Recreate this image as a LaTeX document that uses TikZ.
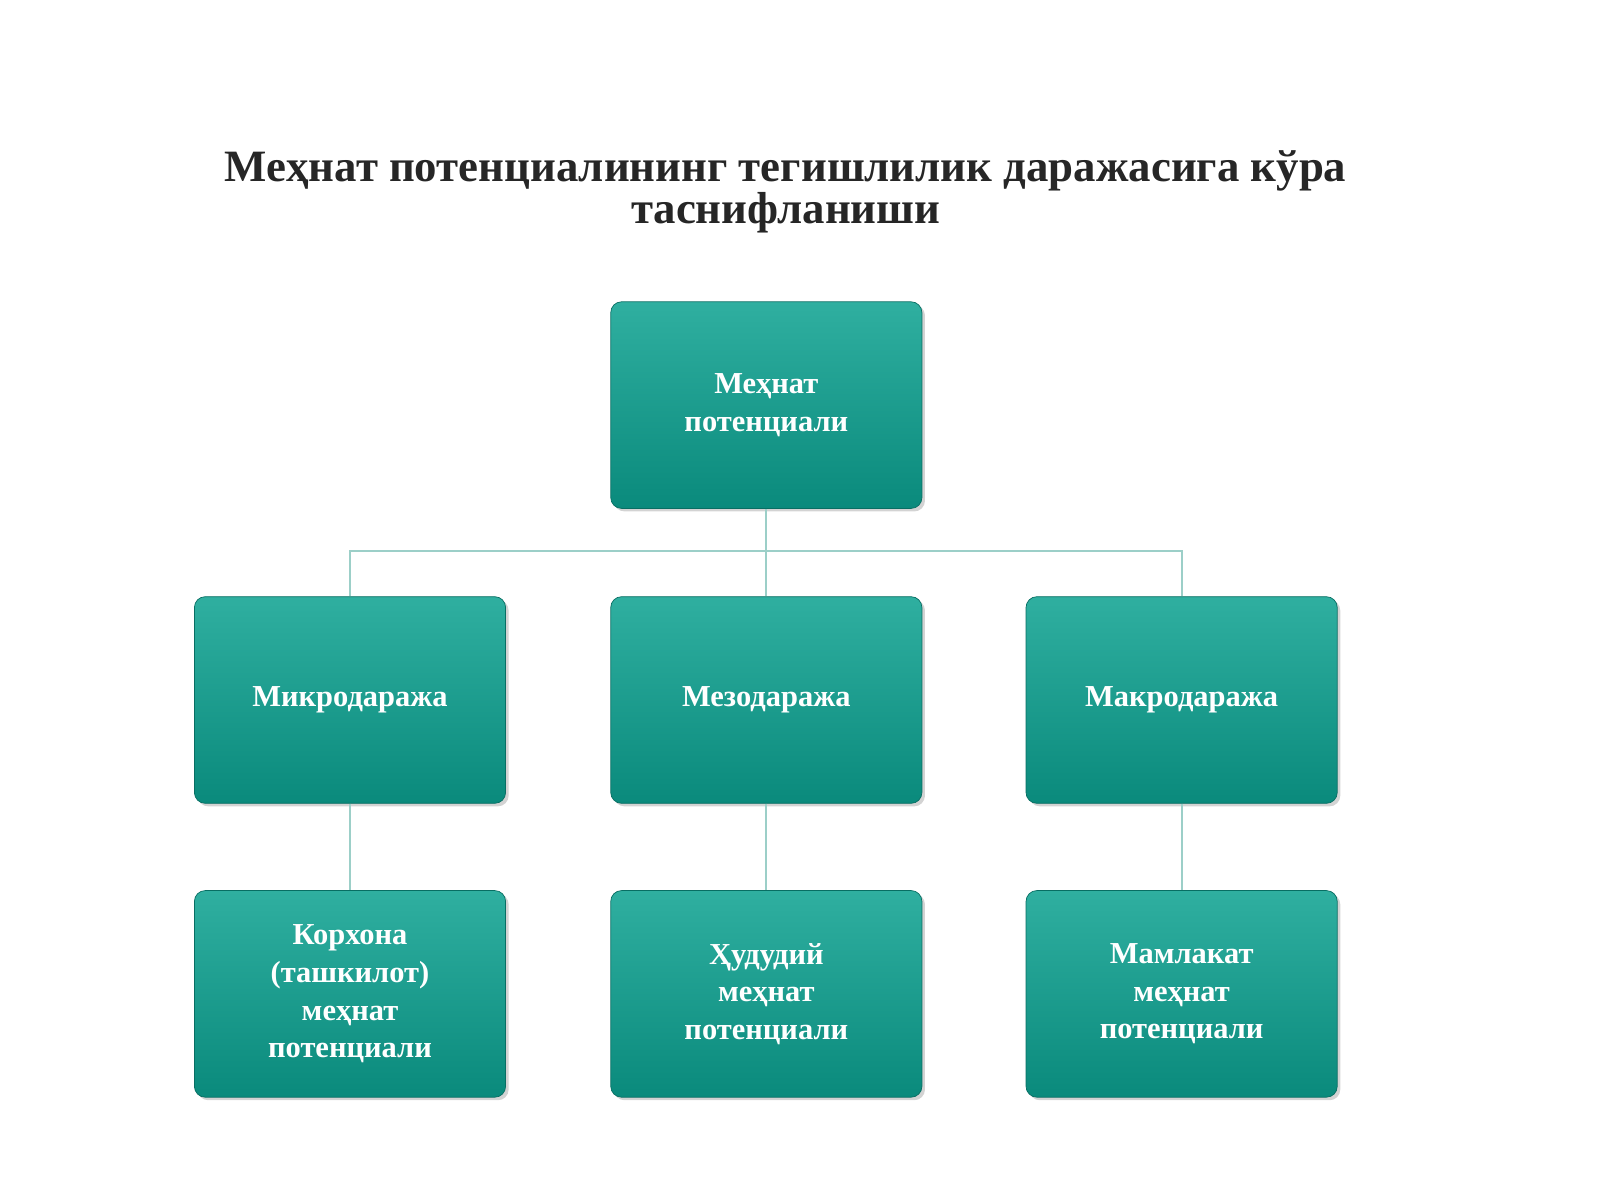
\documentclass[tikz,border=0pt]{standalone}
\usepackage{fontspec}
\setmainfont{Liberation Serif}
\usetikzlibrary{shadows}
\definecolor{tealtop}{HTML}{2FAFA0}
\definecolor{tealbot}{HTML}{0A8A7C}
\definecolor{linec}{HTML}{9CCFC8}
\tikzset{
 box/.style={rectangle, rounded corners=6pt, minimum width=6.1cm, minimum height=4.05cm,
   top color=tealtop, bottom color=tealbot, draw=tealbot!80!black, line width=0.4pt,
   drop shadow={shadow xshift=0.06cm, shadow yshift=-0.06cm, opacity=0.35},
   text=white, font=\fontsize{17}{21}\selectfont\bfseries, align=center, text width=5cm},
 conn/.style={draw=linec, line width=1.2pt}
}
\begin{document}
\begin{tikzpicture}[x=0.02cm,y=-0.02cm]
\useasboundingbox (0,0) rectangle (1568,1176);
\node[font=\fontsize{25}{25}\selectfont\bfseries, align=center, text=black!85] (title) at (770,188)
 {Меҳнат потенциалининг тегишлилик даражасига кўра\\[-2pt] таснифланиши};
\node[box] (top) at (751,397) {Меҳнат\\потенциали};
\node[box] (m1) at (343,686) {Микродаража};
\node[box] (m2) at (751,686) {Мезодаража};
\node[box] (m3) at (1158,686) {Макродаража};
\node[box] (b1) at (343,974) {Корхона\\(ташкилот)\\меҳнат\\потенциали};
\node[box] (b2) at (751,974) {Ҳудудий\\меҳнат\\потенциали};
\node[box] (b3) at (1158,974) {Мамлакат\\меҳнат\\потенциали};
\coordinate (j) at (751,540);
\draw[conn] (top.south) -- (j);
\draw[conn] (j) -| (m1.north);
\draw[conn] (j) -- (m2.north);
\draw[conn] (j) -| (m3.north);
\draw[conn] (m1.south) -- (b1.north);
\draw[conn] (m2.south) -- (b2.north);
\draw[conn] (m3.south) -- (b3.north);
\end{tikzpicture}
\end{document}
